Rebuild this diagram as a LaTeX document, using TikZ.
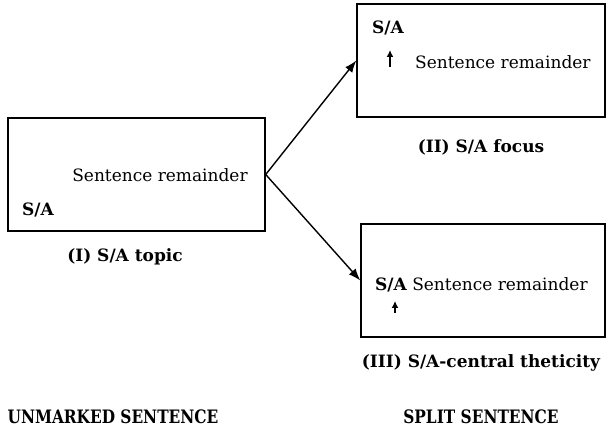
\documentclass[tikz,border=0pt]{standalone}
\usepackage{fontspec}
\setmainfont{DejaVu Serif}
\usepackage{tikz}
\usetikzlibrary{arrows.meta,positioning,calc}
\tikzset{frame/.style={rectangle, draw=black, line width=1.4pt, inner sep=0pt},
txt/.style={font=\fontsize{17}{20}\selectfont, inner sep=0pt, anchor=base},
boldtxt/.style={txt, font=\fontsize{17}{20}\selectfont\bfseries},
caption/.style={font=\fontsize{17}{20}\selectfont\bfseries, inner sep=0pt},
heading/.style={font=\fontsize{18.5}{20}\selectfont\bfseries, inner sep=0pt, xscale=0.83},
up/.style={-{Latex[length=7pt,width=7pt]}, line width=1.5pt},
link/.style={-{Latex[length=12pt,width=9pt]}, line width=1.4pt}}

\begin{document}
\begin{tikzpicture}[x=1pt,y=-1pt]
	\useasboundingbox (0,0) rectangle (606,430);
	\node[frame, minimum width=257pt, minimum height=113pt] (topic) at (136.5,174.5) {};
	\node[frame, minimum width=248pt, minimum height=113pt] (focus) at (481,60.5) {};
	\node[frame, minimum width=244pt, minimum height=113pt] (thetic) at (483,280.5) {};
	% box I
	\node[txt] (remI) at (160,182) {Sentence remainder};
	\node[boldtxt, anchor=base west] (saI) at (22,216) {S/A};
	\node[caption] (capI) at (125,257) {(I) S/A topic};
	% box II
	\node[boldtxt, anchor=base west] (saII) at (372,34) {S/A};
	\node[txt, anchor=base west] (remII) at (415,69) {Sentence remainder};
	\coordinate (upII) at (390,67);
	\draw[up] (upII) -- ++(0,-17);
	\node[caption] (capII) at (481,147) {(II) S/A focus};
	% box III
	\node[boldtxt, anchor=base west] (saIII) at (375,291) {S/A};
	\node[txt, anchor=base west] (remIII) at ([xshift=5pt]saIII.base east) {Sentence remainder};
	\coordinate (upIII) at (395,313);
	\draw[up] (upIII) -- ++(0,-12);
	\node[caption] (capIII) at (481,363) {(III) S/A-central theticity};
	% headings
	\node[heading] (unmarked) at (113,417) {UNMARKED SENTENCE};
	\node[heading] (split) at (481,417) {SPLIT SENTENCE};
	% arrows
	\draw[link] (topic.east) -- (focus.west);
	\draw[link] (topic.east) -- (thetic.west);
\end{tikzpicture}
\end{document}
